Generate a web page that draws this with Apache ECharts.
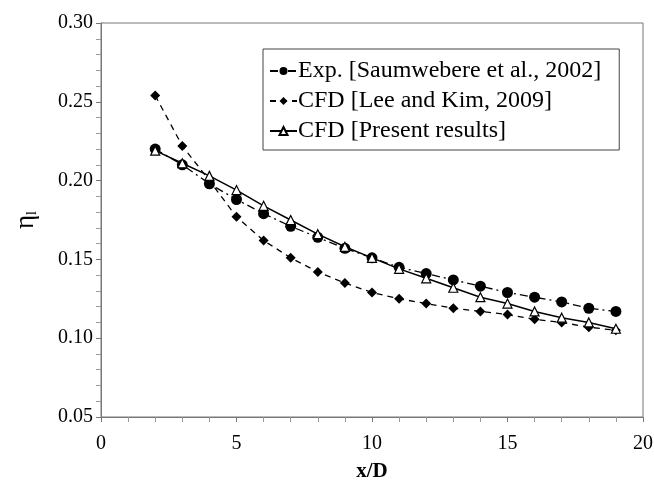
<!DOCTYPE html>
<html><head><meta charset="utf-8">
<script src="https://cdn.jsdelivr.net/npm/echarts@6/dist/echarts.min.js"></script>
<style>html,body{margin:0;padding:0;background:#fff}#c{width:654px;height:484px}</style>
</head><body><div id="c"></div>
<script>
var xVals = [2,3,4,5,6,7,8,9,10,11,12,13,14,15,16,17,18,19];
var expVals = [0.220,0.210,0.198,0.188,0.179,0.171,0.164,0.157,0.151,0.145,0.141,0.137,0.133,0.129,0.126,0.123,0.119,0.117];
var leeVals = [0.254,0.222,0.200,0.177,0.162,0.151,0.142,0.135,0.129,0.125,0.122,0.119,0.117,0.115,0.112,0.110,0.107,0.105];
var cfdVals = [0.219,0.211,0.203,0.194,0.184,0.175,0.166,0.158,0.151,0.144,0.138,0.132,0.126,0.122,0.117,0.113,0.110,0.106];
var seriesNames = ['Exp. [Saumwebere et al., 2002]','CFD [Lee and Kim, 2009]','CFD [Present results]'];

function pairs(v){ return xVals.map(function(x,i){return [x,v[i]];}); }
var font = 'Liberation Serif';
var chart = echarts.init(document.getElementById('c'));
chart.setOption({
  animation:false,
  backgroundColor:'#fff',
  grid:{left:101,right:11,top:23,bottom:67,show:true,borderColor:'#777',borderWidth:1,outerBoundsMode:'none',containLabel:false},
  legend:{
    orient:'vertical', left:263, top:49, padding:[10,18,7,6], itemGap:6,
    itemWidth:27, itemHeight:10,
    backgroundColor:'#fff', borderColor:'#444', borderWidth:1, borderRadius:0,
    textStyle:{fontFamily:font,fontSize:24,color:'#000',padding:[0,0,0,-4]},
    data:seriesNames
  },
  xAxis:{
    type:'value', min:0, max:20, interval:5,
    axisLine:{show:true,lineStyle:{color:'#777'}},
    axisTick:{show:true,inside:false,length:5,lineStyle:{color:'#777'}},
    minorTick:{show:true,splitNumber:5,length:5,lineStyle:{color:'#999'}},
    splitLine:{show:false},
    axisLabel:{fontFamily:font,fontSize:20,color:'#000',margin:17},
    name:'x/D', nameLocation:'middle', nameGap:44,
    nameTextStyle:{fontFamily:font,fontSize:21,fontWeight:'bold',color:'#000'}
  },
  yAxis:{
    type:'value', min:0.05, max:0.30, interval:0.05,
    axisLine:{show:true,lineStyle:{color:'#777'}},
    axisTick:{show:true,inside:false,length:5,lineStyle:{color:'#777'}},
    minorTick:{show:true,splitNumber:5,length:5,lineStyle:{color:'#999'}},
    splitLine:{show:false},
    axisLabel:{fontFamily:font,fontSize:20,color:'#000',margin:8,formatter:function(v){return v.toFixed(2);}},
    name:'{a|η}{b|l}', nameLocation:'middle', nameGap:62, nameRotate:90,
    nameTextStyle:{rich:{a:{fontFamily:font,fontSize:27,color:'#000'},b:{fontFamily:font,fontSize:14,color:'#000',verticalAlign:'bottom',padding:[12,0,0,0]}}}
  },
  series:[
    {name:seriesNames[0],type:'line',data:pairs(expVals),symbol:'circle',symbolSize:11,
     itemStyle:{color:'#000'},lineStyle:{color:'#000',width:1.3,type:[8,4,2,4]}},
    {name:seriesNames[1],type:'line',data:pairs(leeVals),symbol:'diamond',symbolSize:10,
     itemStyle:{color:'#000'},lineStyle:{color:'#000',width:1.3,type:[6,5]}},
    {name:seriesNames[2],type:'line',data:pairs(cfdVals),symbol:'triangle',symbolSize:9,
     itemStyle:{color:'#fff',borderColor:'#000',borderWidth:1.2},lineStyle:{color:'#000',width:1.5,type:'solid'}}
  ]
});
</script></body></html>
